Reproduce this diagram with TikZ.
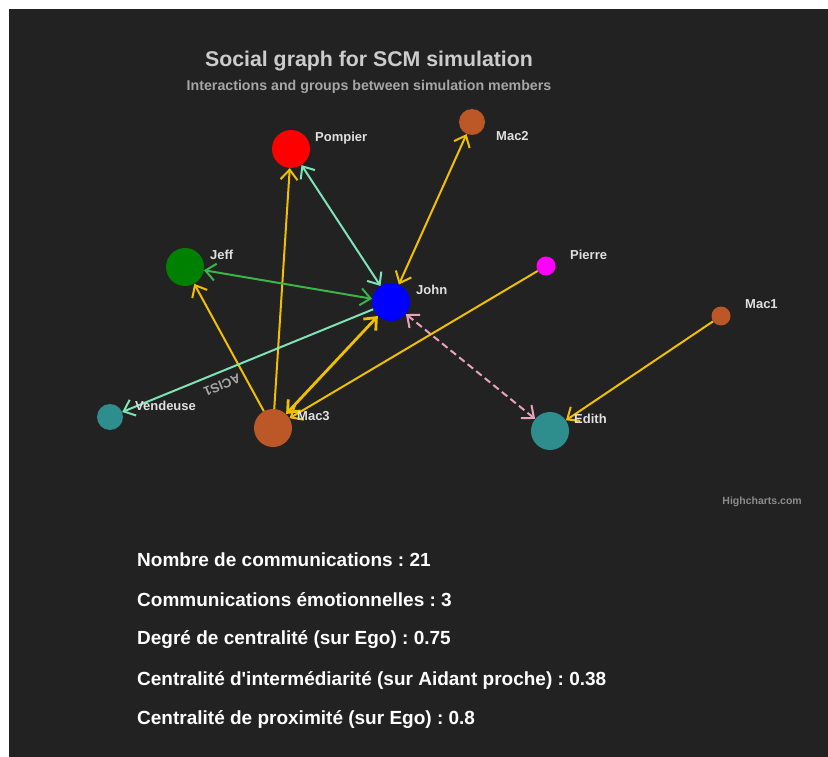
\documentclass[tikz,border=0pt]{standalone}
\usepackage{fontspec}
\setmainfont{Liberation Sans}[Ligatures=TeXOff]
\usetikzlibrary{arrows.meta}
\frenchspacing
\definecolor{bgdark}{HTML}{222222}
\definecolor{edgeyellow}{HTML}{F0C000}
\definecolor{edgeaqua}{HTML}{7FE3B8}
\definecolor{edgegreen}{HTML}{3AB54A}
\definecolor{edgepink}{HTML}{E8A2BC}
\definecolor{macbrown}{HTML}{BC5827}
\definecolor{tealnode}{HTML}{2E8E8E}
\definecolor{pierrepink}{HTML}{FF00FF}
\definecolor{jeffgreen}{HTML}{008000}
\definecolor{titlegray}{HTML}{CCCCCC}
\definecolor{subgray}{HTML}{A6A6A6}
\definecolor{lblgray}{HTML}{E0E0E0}
\definecolor{creditgray}{HTML}{8C8C8C}
\tikzset{
  vtx/.style={circle, inner sep=0pt, draw=none},
  lbl/.style={anchor=west, inner sep=0pt, text=lblgray, font=\bfseries\fontsize{13}{15}\selectfont},
  stat/.style={anchor=west, inner sep=0pt, text=white, font=\bfseries\fontsize{19}{22}\selectfont},
  edge/.style={line width=2pt},
  oneway/.style={edge, -{Straight Barb[length=10pt,width=17pt]}},
  twoway/.style={edge, {Straight Barb[length=10pt,width=17pt]}-{Straight Barb[length=10pt,width=17pt]}}
}
\begin{document}
\begin{tikzpicture}[x=1pt,y=-1pt]
\useasboundingbox (0,0) rectangle (828,757);
\fill[white] (0,0) rectangle (828,757);
\fill[bgdark] (9,9) rectangle (828,757);

% title
\node[text=titlegray, font=\bfseries\fontsize{21.3}{25}\selectfont, inner sep=0pt] (title) at (369,61) {Social graph for SCM simulation};
\node[text=subgray, font=\bfseries\fontsize{14.2}{17}\selectfont, inner sep=0pt] (subtitle) at (369,87) {Interactions and groups between simulation members};

% vertices
\node[vtx, minimum size=38pt, fill=red] (pompier) at (291,149) {};
\node[vtx, minimum size=26pt, fill=macbrown] (mac2) at (472,122) {};
\node[vtx, minimum size=38pt, fill=jeffgreen] (jeff) at (185,267) {};
\node[vtx, minimum size=38pt, fill=blue] (john) at (391,302) {};
\node[vtx, minimum size=19pt, fill=pierrepink] (pierre) at (546,266) {};
\node[vtx, minimum size=19pt, fill=macbrown] (mac1) at (721,316) {};
\node[vtx, minimum size=26pt, fill=tealnode] (vendeuse) at (110,417) {};
\node[vtx, minimum size=38pt, fill=macbrown] (mac3) at (273,428) {};
\node[vtx, minimum size=38pt, fill=tealnode] (edith) at (550,431) {};

% edges
\draw[oneway, edgeyellow] (mac3) -- (jeff);
\draw[oneway, edgeyellow] (mac3) -- (pompier);
\draw[twoway, edgeyellow, line width=2.8pt] (mac3) -- (john);
\draw[oneway, edgeyellow] (pierre) -- (mac3);
\draw[twoway, edgeyellow] (john) -- (mac2);
\draw[twoway, edgeaqua] (john) -- (pompier);
\draw[twoway, edgegreen] (john) -- (jeff);
\draw[oneway, edgeaqua] (john) -- (vendeuse);
\draw[twoway, edgepink, dash pattern=on 7pt off 4pt] (john) -- (edith);
\draw[oneway, edgeyellow] (mac1) -- (edith);

% edge label
\node[text=subgray, font=\bfseries\fontsize{13}{15}\selectfont, inner sep=0pt, rotate=202.3] (acis) at (222,385) {ACIS1};

% vertex labels
\node[lbl] (lpompier) at (315,138) {Pompier};
\node[lbl] (lmac2) at (496,136) {Mac2};
\node[lbl] (ljeff) at (210,255) {Jeff};
\node[lbl] (ljohn) at (416,290) {John};
\node[lbl] (lpierre) at (570,255) {Pierre};
\node[lbl] (lmac1) at (745,304) {Mac1};
\node[lbl] (lvendeuse) at (135,406) {Vendeuse};
\node[lbl] (lmac3) at (297,416) {Mac3};
\node[lbl] (ledith) at (574,419) {Edith};

% credits
\node[text=creditgray, font=\bfseries\fontsize{10.5}{12}\selectfont, inner sep=0pt, anchor=east] (credits) at (802,502) {Highcharts.com};

% statistics
\node[stat] (s1) at (137,560) {Nombre de communications : 21};
\node[stat] (s2) at (137,600) {Communications émotionnelles : 3};
\node[stat] (s3) at (137,640) {Degré de centralité (sur Ego) : 0.75};
\node[stat] (s4) at (137,680) {Centralité d'intermédiarité (sur Aidant proche) : 0.38};
\node[stat] (s5) at (137,720) {Centralité de proximité (sur Ego) : 0.8};
\end{tikzpicture}
\end{document}
